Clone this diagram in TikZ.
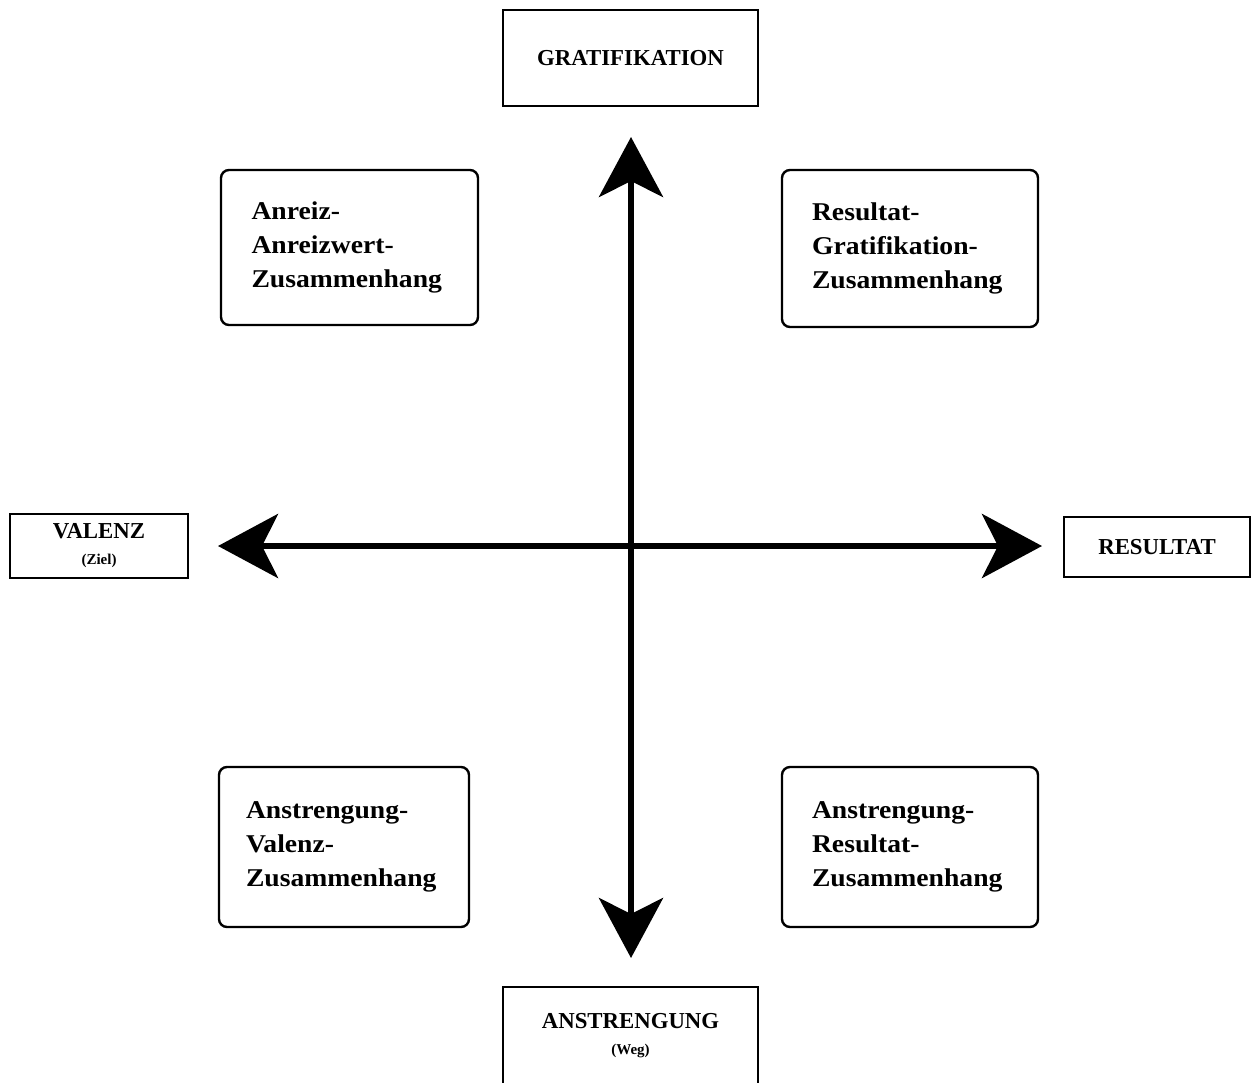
\documentclass[tikz,border=0pt]{standalone}
\usepackage{fontspec}
\setmainfont{Liberation Serif}
\newfontfamily\boxfont{Liberation Serif Bold}[FakeStretch=1.08]
\usetikzlibrary{arrows.meta}
\begin{document}
\begin{tikzpicture}[x=0.5pt,y=-0.5pt,
  sqbox/.style={draw, line width=1.2pt, inner sep=0pt, align=center,
    font=\bfseries\fontsize{11.4}{14}\selectfont},
  rbox/.style={draw, line width=1.2pt, rounded corners=4pt, inner sep=0pt,
    text width=98pt, align=left,
    font=\boxfont\fontsize{12.8}{17}\selectfont},
  axis/.style={line width=3.3pt,
    {Stealth[length=30pt,width=32pt,inset=8pt]}-{Stealth[length=30pt,width=32pt,inset=8pt]}}
]
\useasboundingbox (0,0) rectangle (1251,1082);

% end boxes of the two axes
\node[sqbox, minimum width=127.5pt, minimum height=48pt] (grat) at (630.5,58) {GRATIFIKATION};
\node[sqbox, minimum width=89pt, minimum height=32pt] (val) at (99,546)
  {VALENZ\\[-1pt]{\fontsize{7.5}{9}\selectfont(Ziel)}};
\node[sqbox, minimum width=93pt, minimum height=30pt] (res) at (1157,547) {RESULTAT};
\node[sqbox, minimum width=127.5pt, minimum height=48.5pt] (anst) at (630.5,1035.5)
  {ANSTRENGUNG\\[-1pt]{\fontsize{7.5}{9}\selectfont(Weg)}};

% quadrant boxes
\node[rbox, minimum width=128.5pt, minimum height=77.5pt] (q1) at (349.5,247.5)
  {Anreiz-\\Anreizwert-\\Zusammenhang};
\node[rbox, minimum width=128pt, minimum height=78.5pt] (q2) at (910,248.5)
  {Resultat-\\Gratifikation-\\Zusammenhang};
\node[rbox, minimum width=125pt, minimum height=80pt] (q3) at (344,847)
  {Anstrengung-\\Valenz-\\Zusammenhang};
\node[rbox, minimum width=128pt, minimum height=80pt] (q4) at (910,847)
  {Anstrengung-\\Resultat-\\Zusammenhang};

% axes
\coordinate (ntip) at (631,137);
\coordinate (stip) at (631,958);
\coordinate (wtip) at (218,546);
\coordinate (etip) at (1042,546);
\draw[axis] (stip) -- (ntip);
\draw[axis] (wtip) -- (etip);
\end{tikzpicture}
\end{document}
